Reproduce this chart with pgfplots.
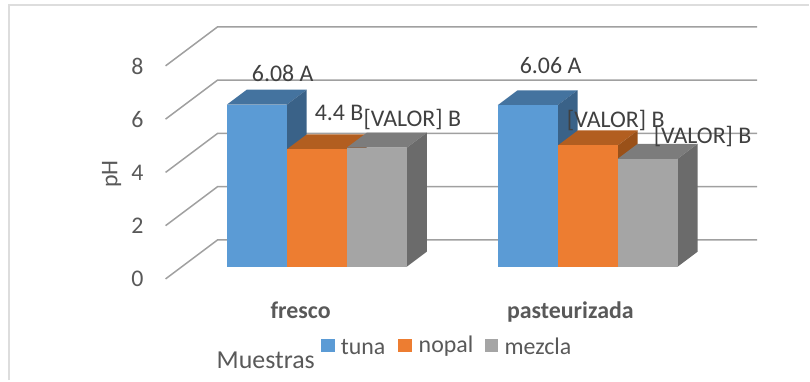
\documentclass[border=0pt]{standalone}
\usepackage{pgfplots}
\usepackage{fontspec}
\setmainfont{Carlito}
\pgfplotsset{compat=1.18}
\definecolor{tickgrey}{HTML}{595959}
\definecolor{gridgrey}{HTML}{A0A0A0}
\definecolor{framegrey}{HTML}{DDDDDD}
\definecolor{labelgrey}{HTML}{404040}
\definecolor{tunaF}{HTML}{5B9BD5}
\definecolor{tunaT}{HTML}{44739F}
\definecolor{tunaS}{HTML}{3A6288}
\definecolor{nopalF}{HTML}{ED7D31}
\definecolor{nopalT}{HTML}{B25E20}
\definecolor{nopalS}{HTML}{9A5119}
\definecolor{mezclaF}{HTML}{A5A5A5}
\definecolor{mezclaT}{HTML}{7C7C7C}
\definecolor{mezclaS}{HTML}{6B6B6B}
\newcommand{\chartfont}{\fontsize{24}{28}\selectfont}

% Pseudo-3D column: left edge, height, colour prefix
\newcommand{\prism}[3]{%
  \addplot[fill=#3T,draw=none,forget plot] coordinates
    {(#1,#2) (#1+60,#2) (#1+80,#2+0.5625) (#1+20,#2+0.5625)} -- cycle;
  \addplot[fill=#3S,draw=none,forget plot] coordinates
    {(#1+60,0) (#1+80,0.5625) (#1+80,#2+0.5625) (#1+60,#2)} -- cycle;
  \addplot[fill=#3F,draw=none,forget plot] coordinates
    {(#1,0) (#1+60,0) (#1+60,#2) (#1,#2)} -- cycle;
}
% One level of the wall grid: front left end, back left end, right end
\newcommand{\wallgrid}[1]{%
  \addplot[gridgrey,line width=1.5pt,forget plot] coordinates
    {(165.7,#1-0.4612) (217.7,#1+1.0012) (758,#1+1.0012)};
}

\begin{document}
\begin{tikzpicture}
\begin{axis}[
  scale only axis, width=810bp, height=381bp,
  xmin=0, xmax=810, ymin=-4.2745, ymax=10.0112,
  clip=false,
  axis line style={draw=none},
  major tick length=0pt,
  ytick={0,2,4,6,8},
  yticklabel style={font=\chartfont,text=tickgrey,
    xshift=147bp,yshift=-12.5bp,/pgf/number format/assume math mode=true},
  xtick={301,571},
  xticklabels={\textbf{fresco},\textbf{pasteurizada}},
  xticklabel style={font=\chartfont,text=tickgrey},
  xtick pos=bottom,
  every x tick label/.append style={yshift=82bp},
]
  % wall grid
  \wallgrid{0}
  \wallgrid{2}
  \wallgrid{4}
  \wallgrid{6}
  \wallgrid{8}

  % columns, drawn back to front from left to right
  \prism{227}{6.08}{tuna}
  \prism{287}{4.40}{nopal}
  \prism{347.3}{4.47}{mezcla}
  \prism{498.2}{6.06}{tuna}
  \prism{558.5}{4.55}{nopal}
  \prism{618.5}{4.05}{mezcla}

  % value labels, each set off from the top of its column
  \addplot[
    only marks, mark=none, forget plot,
    point meta=explicit symbolic,
    visualization depends on={\thisrow{dx}\as\labdx},
    visualization depends on={\thisrow{dy}\as\labdy},
    nodes near coords,
    nodes near coords align={center},
    nodes near coords style={
      font=\chartfont, text=labelgrey, inner sep=0pt,
      xshift=\labdx bp, yshift=\labdy bp},
  ] table[x=x,y=y,meta=lab,col sep=comma] {
    x,y,dx,dy,lab
    257,6.08,26,31,6.08 A
    317,4.40,22.5,37,4.4 B
    377.3,4.47,35.5,28.5,[VALOR] B
    528.2,6.06,23,40,6.06 A
    588.5,4.55,28,24.5,[VALOR] B
    648.5,4.05,55,22.5,[VALOR] B
  };

  % pH axis title
  \node[rotate=90,font=\chartfont,text=tickgrey] at (axis cs:111.7,3.48) {pH};

  % legend, built from the same plotting coordinates
  \node[font=\fontsize{26}{30}\selectfont,text=tickgrey] at (axis cs:266,-3.51) {Muestras};
  \fill[tunaF] (axis cs:321,-2.70) rectangle (axis cs:335,-3.22);
  \node[anchor=west,inner sep=0pt,font=\chartfont,text=tickgrey] at (axis cs:341,-3.0) {tuna};
  \fill[nopalF] (axis cs:398,-2.70) rectangle (axis cs:412,-3.22);
  \node[anchor=west,inner sep=0pt,font=\chartfont,text=tickgrey] at (axis cs:419,-3.0) {nopal};
  \fill[mezclaF] (axis cs:486,-2.70) rectangle (axis cs:499,-3.22);
  \node[anchor=west,inner sep=0pt,font=\chartfont,text=tickgrey] at (axis cs:505,-3.0) {mezcla};

  % chart frame: left edge and top edge only
  \draw[framegrey,line width=2pt] (axis cs:8.7,-4.2745) -- (axis cs:8.7,9.83) -- (axis cs:810,9.83);
\end{axis}
\end{tikzpicture}
\end{document}
